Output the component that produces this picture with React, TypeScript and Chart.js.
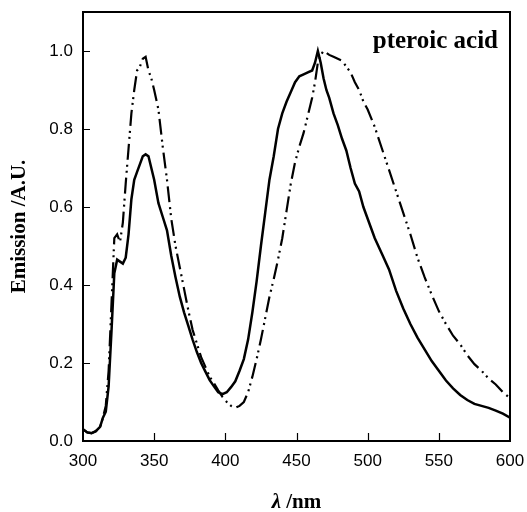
import React, { useEffect, useRef } from "react";
import { Chart, registerables } from "chart.js";

Chart.register(...registerables);

const wavelengths = [
  300, 303, 306, 309, 312, 314, 316, 318, 320, 322, 324, 326, 328, 330, 332, 334, 336, 338, 340, 342,
  344, 346, 348, 350, 353, 356, 359, 362, 365, 368, 371, 374, 377, 380, 383, 386, 389, 392, 395, 398,
  401, 404, 407, 410, 413, 416, 419, 422, 425, 428, 431, 434, 437, 440, 443, 446, 449, 452, 455, 458,
  461, 463, 465, 467, 469, 471, 473, 476, 479, 482, 485, 488, 491, 494, 497, 500, 505, 510, 515, 520,
  525, 530, 535, 540, 545, 550, 555, 560, 565, 570, 575, 580, 585, 590, 595, 600,
];

const emissionSolid = [
  0.03, 0.022, 0.02, 0.025, 0.036, 0.06, 0.075, 0.14, 0.28, 0.43, 0.465, 0.46, 0.455, 0.47, 0.53, 0.62, 0.67, 0.69, 0.71, 0.73,
  0.735, 0.73, 0.7, 0.67, 0.61, 0.575, 0.54, 0.475, 0.42, 0.37, 0.33, 0.295, 0.26, 0.228, 0.2, 0.178, 0.156, 0.14, 0.125, 0.12,
  0.125, 0.138, 0.153, 0.18, 0.21, 0.26, 0.33, 0.41, 0.5, 0.585, 0.67, 0.73, 0.8, 0.84, 0.87, 0.895, 0.92, 0.935, 0.94, 0.945,
  0.95, 0.97, 1.0, 0.97, 0.93, 0.9, 0.88, 0.84, 0.81, 0.775, 0.745, 0.7, 0.66, 0.64, 0.6, 0.57, 0.52, 0.48, 0.44, 0.385,
  0.34, 0.3, 0.265, 0.235, 0.205, 0.18, 0.155, 0.135, 0.118, 0.105, 0.095, 0.09, 0.085, 0.078, 0.07, 0.06,
];

const emissionDashed = [
  0.03, 0.022, 0.02, 0.025, 0.036, 0.06, 0.09, 0.18, 0.35, 0.52, 0.53, 0.51, 0.56, 0.66, 0.75, 0.84, 0.9, 0.95, 0.96, 0.98,
  0.985, 0.95, 0.93, 0.9, 0.85, 0.755, 0.67, 0.57, 0.5, 0.445, 0.39, 0.335, 0.285, 0.25, 0.215, 0.19, 0.165, 0.148, 0.13, 0.113,
  0.1, 0.09, 0.085, 0.09, 0.1, 0.125, 0.165, 0.21, 0.26, 0.315, 0.37, 0.415, 0.465, 0.52, 0.59, 0.66, 0.715, 0.755, 0.79, 0.835,
  0.88, 0.92, 0.97, 0.99, 1.0, 0.995, 0.99, 0.985, 0.98, 0.975, 0.96, 0.945, 0.92, 0.9, 0.87, 0.85, 0.805, 0.75, 0.695, 0.64,
  0.585, 0.53, 0.47, 0.42, 0.375, 0.333, 0.3, 0.27, 0.248, 0.22, 0.197, 0.18, 0.16, 0.145, 0.125, 0.11,
];

const xTicks = [300, 350, 400, 450, 500, 550, 600];
const yTicks = [0, 0.2, 0.4, 0.6, 0.8, 1.0];
const chartTitle = "pteroic acid";
const yTitle = "Emission /A.U.";
const xTitleSymbol = "λ";
const xTitleUnit = " /nm";

const framePlugin = {
  id: "frame",
  afterDraw(chart: any) {
    const { ctx, chartArea } = chart;
    const { left, right, top, bottom } = chartArea;
    const xs = chart.scales.x;
    const ys = chart.scales.y;
    ctx.save();
    ctx.strokeStyle = "#000";
    ctx.lineWidth = 2;
    ctx.strokeRect(left, top, right - left, bottom - top);
    ctx.lineWidth = 1.2;
    ctx.beginPath();
    xTicks.forEach((v) => {
      if (v === xTicks[0] || v === xTicks[xTicks.length - 1]) return;
      const px = Math.round(xs.getPixelForValue(v)) + 0.5;
      ctx.moveTo(px, bottom);
      ctx.lineTo(px, bottom - 8);
    });
    yTicks.forEach((v) => {
      if (v === 0) return;
      const py = Math.round(ys.getPixelForValue(v)) + 0.5;
      ctx.moveTo(left, py);
      ctx.lineTo(left + 7, py);
    });
    ctx.stroke();

    // chart title inside plot area
    ctx.fillStyle = "#000";
    ctx.font = "bold 25px 'Liberation Serif'";
    ctx.textAlign = "right";
    ctx.textBaseline = "alphabetic";
    ctx.fillText(chartTitle, right - 12, top + 36);

    // x-axis title with italic lambda
    const cx = (left + right) / 2;
    const baseY = 508;
    ctx.font = "bold italic 21px 'Liberation Serif'";
    const w1 = ctx.measureText(xTitleSymbol).width;
    ctx.font = "bold 21px 'Liberation Serif'";
    const w2 = ctx.measureText(xTitleUnit).width;
    const startX = cx - (w1 + w2) / 2;
    ctx.textAlign = "left";
    ctx.font = "bold italic 21px 'Liberation Serif'";
    ctx.fillText(xTitleSymbol, startX, baseY);
    ctx.font = "bold 21px 'Liberation Serif'";
    ctx.fillText(xTitleUnit, startX + w1, baseY);
    ctx.restore();
  },
};

const zeroPadding = (scale: any) => {
  scale.paddingLeft = 0;
  scale.paddingRight = 0;
  scale.paddingTop = 0;
  scale.paddingBottom = 0;
};

export default function App() {
  const canvasRef = useRef<HTMLCanvasElement | null>(null);

  useEffect(() => {
    document.body.style.margin = "0";
    const canvas = canvasRef.current;
    if (!canvas) return;
    const chart = new Chart(canvas, {
      type: "line",
      data: {
        datasets: [
          {
            label: "solid",
            data: wavelengths.map((x, i) => ({ x, y: emissionSolid[i] })),
            borderColor: "#000",
            borderWidth: 2.5,
            pointRadius: 0,
            fill: false,
            tension: 0,
          },
          {
            label: "dashed",
            data: wavelengths.map((x, i) => ({ x, y: emissionDashed[i] })),
            borderColor: "#000",
            borderWidth: 2.2,
            borderDash: [16, 5, 2, 4, 2, 5],
            pointRadius: 0,
            fill: false,
            tension: 0,
          },
        ],
      },
      options: {
        animation: false,
        responsive: false,
        maintainAspectRatio: false,
        layout: { padding: { left: 0, right: 17, top: 12, bottom: 0 } },
        plugins: {
          legend: { display: false },
          tooltip: { enabled: false },
          title: { display: false },
        },
        scales: {
          x: {
            type: "linear",
            min: 300,
            max: 600,
            grid: { display: false, drawTicks: false },
            border: { display: false },
            afterBuildTicks: (scale: any) => {
              scale.ticks = xTicks.map((v) => ({ value: v }));
            },
            afterFit: (scale: any) => {
              scale.height = 71;
              zeroPadding(scale);
            },
            ticks: {
              padding: 10,
              color: "#000",
              font: { family: "'Liberation Sans'", size: 17 },
              maxRotation: 0,
              autoSkip: false,
              callback: (v: any) => String(v),
            },
          },
          y: {
            type: "linear",
            min: 0,
            max: 1.1,
            grid: { display: false, drawTicks: false },
            border: { display: false },
            afterBuildTicks: (scale: any) => {
              scale.ticks = yTicks.map((v) => ({ value: v }));
            },
            afterFit: (scale: any) => {
              scale.width = 83;
              zeroPadding(scale);
            },
            ticks: {
              padding: 10,
              color: "#000",
              font: { family: "'Liberation Sans'", size: 17 },
              autoSkip: false,
              callback: (v: any) => Number(v).toFixed(1),
            },
            title: {
              display: true,
              text: yTitle,
              color: "#000",
              font: { family: "'Liberation Serif'", size: 21, weight: "bold", lineHeight: 1 },
              padding: { top: 9, bottom: 0 },
            },
          },
        },
      },
      plugins: [framePlugin],
    });
    return () => chart.destroy();
  }, []);

  return <canvas ref={canvasRef} width={527} height={512} style={{ display: "block" }} />;
}
